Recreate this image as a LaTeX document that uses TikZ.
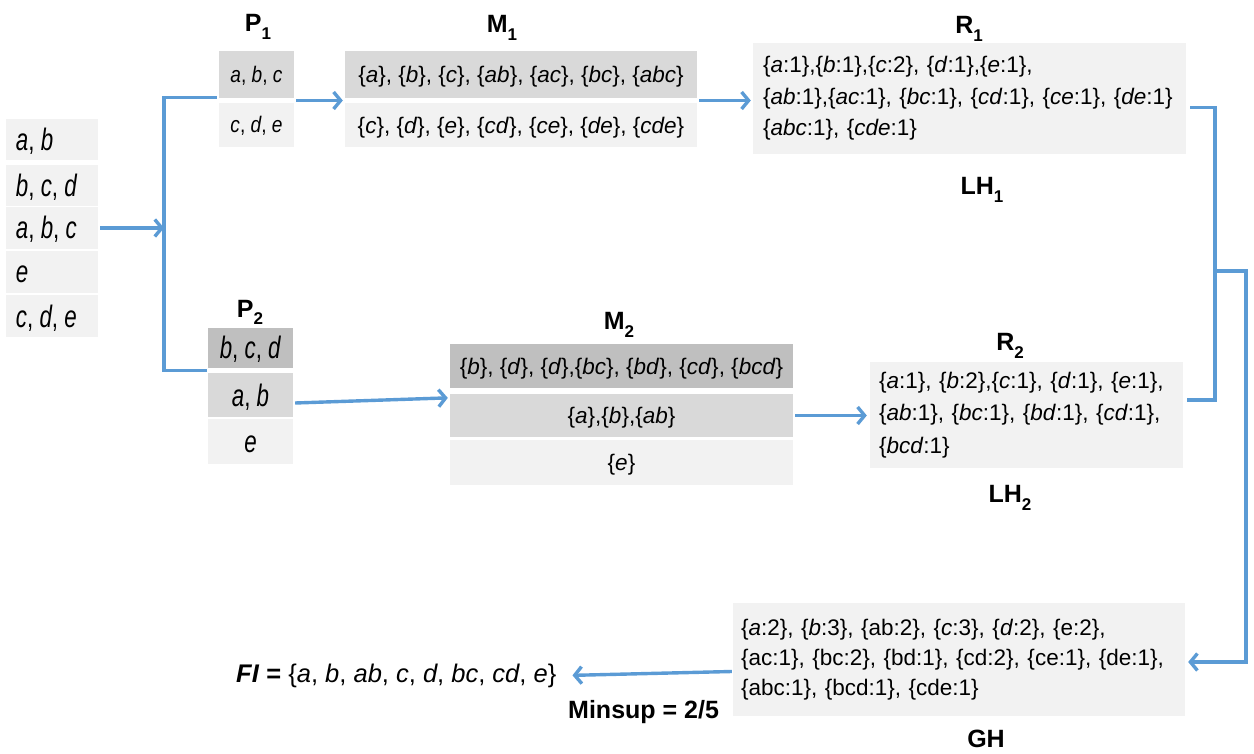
\documentclass[tikz,border=0pt]{standalone}
\usepackage{fontspec}
\usepackage{graphicx}
\setmainfont{Liberation Sans}
\usetikzlibrary{arrows.meta,calc}

\definecolor{flow}{HTML}{5B9BD5}
\definecolor{cellA}{HTML}{F2F2F2}
\definecolor{cellB}{HTML}{D9D9D9}
\definecolor{cellC}{HTML}{BFBFBF}

% item sets: italic letters, upright braces and counts
\newcommand\iset[1]{\{\textit{#1}\}}
\newcommand\icnt[2]{\{\textit{#1}:#2\}}
% subscript for the bold titles
\newcommand\lsub[1]{\raisebox{-0.32em}{\fontsize{17}{17}\selectfont #1}}
% narrow, tall lettering of the transaction cells
\newcommand\tall[1]{\scalebox{0.72}[1]{\fontsize{31}{31}\selectfont #1}}
% left-set lettering of the database rows
\newcommand\rowtext[1]{\makebox[72pt][l]{\tall{#1}}}
% slightly narrow lettering of the first partition
\newcommand\narrow[1]{\scalebox{0.85}[1]{\fontsize{22.5}{22.5}\selectfont #1}}

\begin{document}
\begin{tikzpicture}[x=1pt,y=-1pt,
  cell/.style={rectangle, inner sep=0pt, draw=none},
  txt/.style={font=\fontsize{22.5}{31.5}\selectfont},
  tallcell/.style={cell, text height=22pt, text depth=0pt},
  normcell/.style={cell, txt, text height=16.5pt, text depth=0pt},
  smallcell/.style={cell, text height=16pt, text depth=0pt},
  listbox/.style={cell, txt, align=left, fill=cellA},
  title/.style={font=\fontsize{25}{25}\selectfont\bfseries, inner sep=0pt, anchor=base},
  line/.style={draw=flow, line width=3.4pt},
  link/.style={line, -{Straight Barb[length=7pt,width=17pt]}}
]
\useasboundingbox (0,0) rectangle (1254,754);

% transaction database
\node[tallcell, fill=cellA, minimum width=92, minimum height=41] (t1) at (52,139.5) {\rowtext{\textit{a}, \textit{b}}};
\node[tallcell, fill=cellA, minimum width=92, minimum height=41] (t2) at (52,185.5) {\rowtext{\textit{b}, \textit{c}, \textit{d}}};
\node[tallcell, fill=cellA, minimum width=92, minimum height=42] (t3) at (52,228) {\rowtext{\textit{a}, \textit{b}, \textit{c}}};
\node[tallcell, fill=cellA, minimum width=92, minimum height=42] (t4) at (52,272) {\rowtext{\textit{e}}};
\node[tallcell, fill=cellA, minimum width=92, minimum height=42] (t5) at (52,316) {\rowtext{\textit{c}, \textit{d}, \textit{e}}};

% partition 1
\node[title] (p1t) at (258,32) {P\lsub{1}};
\node[smallcell, fill=cellB, minimum width=75, minimum height=47] (p1a) at (256.5,74.5) {\narrow{\textit{a}, \textit{b}, \textit{c}}};
\node[smallcell, fill=cellA, minimum width=75, minimum height=44] (p1b) at (256.5,125) {\narrow{\textit{c}, \textit{d}, \textit{e}}};

% mapped subsets of partition 1
\node[title] (m1t) at (502,33) {M\lsub{1}};
\node[normcell, fill=cellB, minimum width=352, minimum height=47] (m1a) at (521,74.5) {\iset{a}, \iset{b}, \iset{c}, \iset{ab}, \iset{ac}, \iset{bc}, \iset{abc}};
\node[normcell, fill=cellA, minimum width=352, minimum height=44] (m1b) at (521,125) {\iset{c}, \iset{d}, \iset{e}, \iset{cd}, \iset{ce}, \iset{de}, \iset{cde}};

% reduced counts of partition 1
\node[title] (r1t) at (969,34) {R\lsub{1}};
\node[listbox, minimum width=433, minimum height=111, text width=413pt] (r1) at (969.5,98.5)
  {\icnt{a}{1},\icnt{b}{1},\icnt{c}{2}, \icnt{d}{1},\icnt{e}{1},\\
   \icnt{ab}{1},\icnt{ac}{1}, \icnt{bc}{1}, \icnt{cd}{1}, \icnt{ce}{1}, \icnt{de}{1}\\
   \icnt{abc}{1}, \icnt{cde}{1}};
\node[title] (lh1) at (982,195) {LH\lsub{1}};

% partition 2
\node[title] (p2t) at (250,317) {P\lsub{2}};
\node[tallcell, fill=cellC, minimum width=85, minimum height=40] (p2a) at (250.5,348) {\tall{\textit{b}, \textit{c}, \textit{d}}};
\node[tallcell, fill=cellB, minimum width=85, minimum height=44] (p2b) at (250.5,395) {\tall{\textit{a}, \textit{b}}};
\node[tallcell, fill=cellA, minimum width=85, minimum height=45] (p2c) at (250.5,441.5) {\tall{\textit{e}}};

% mapped subsets of partition 2
\node[title] (m2t) at (619,330) {M\lsub{2}};
\node[normcell, fill=cellC, minimum width=343, minimum height=44] (m2a) at (621.5,366) {\iset{b}, \iset{d}, \iset{d},\iset{bc}, \iset{bd}, \iset{cd}, \iset{bcd}};
\node[normcell, fill=cellB, minimum width=343, minimum height=43] (m2b) at (621.5,415.5) {\iset{a},\iset{b},\iset{ab}};
\node[normcell, fill=cellA, minimum width=343, minimum height=45] (m2c) at (621.5,462.5) {\iset{e}};

% reduced counts of partition 2
\node[title] (r2t) at (1010,350) {R\lsub{2}};
\node[listbox, minimum width=313, minimum height=106, text width=295pt, font=\fontsize{22.5}{32.5}\selectfont] (r2) at (1026.5,415)
  {\icnt{a}{1}, \icnt{b}{2},\icnt{c}{1}, \icnt{d}{1}, \icnt{e}{1},\\
   \icnt{ab}{1}, \icnt{bc}{1}, \icnt{bd}{1}, \icnt{cd}{1},\\
   \icnt{bcd}{1}};
\node[title] (lh2) at (1010,502) {LH\lsub{2}};

% global counts
\node[listbox, minimum width=452, minimum height=113, text width=436pt, font=\fontsize{22.5}{30}\selectfont] (gh) at (959,659.5)
  {\icnt{a}{2}, \icnt{b}{3}, \{ab:2\}, \icnt{c}{3}, \icnt{d}{2}, \{e:2\},\\
   \{ac:1\}, \{bc:2\}, \{bd:1\}, \{cd:2\}, \{ce:1\}, \{de:1\},\\
   \{abc:1\}, \{bcd:1\}, \{cde:1\}};
\node[title] (ght) at (986,747) {GH};

% result
\node[inner sep=0pt, anchor=base west, font=\fontsize{25.5}{25.5}\selectfont] (fi) at (236,682)
  {\textbf{\textit{FI}} \textbf{=} \{\textit{a}, \textit{b}, \textit{ab}, \textit{c}, \textit{d}, \textit{bc}, \textit{cd}, \textit{e}\}};
\node[title, anchor=base west] (ms) at (568,718) {Minsup = 2/5};

% split of the database
\coordinate (split) at (164,228);
\coordinate (p1gap) at ($(p1a.south west)!.5!(p1b.north west)+(-2,-3)$);
\coordinate (p2gap) at ($(p2a.south west)!.5!(p2b.north west)+(-1,0)$);
\draw[link, shorten <=2pt] (t3.east) -- (split);
\draw[line, line cap=butt] (p1gap) -| (split) |- (p2gap);

% map and reduce flows
\coordinate (p1out) at ($(p1a.south east)!.5!(p1b.north east)$);
\coordinate (m1in) at ($(m1a.south west)!.5!(m1b.north west)$);
\coordinate (m1out) at ($(m1a.south east)!.5!(m1b.north east)$);
\draw[link, shorten <=2pt, shorten >=2pt] (p1out) -- (m1in);
\draw[link, shorten <=2pt, shorten >=2pt] (m1out) -- (m1out -| r1.west);
\draw[link, shorten >=2pt] ($(p2b.east)+(2,8)$) -- ($(m2b.north west)+(0,4)$);
\draw[link, shorten <=2pt, shorten >=3pt] (m2b.east) -- (m2b.east -| r2.west);

% merge of the local counts
\coordinate (join) at (1215,271);
\coordinate (bus) at (1246,271);
\coordinate (r1out) at ($(r1.east)+(4,9)$);
\coordinate (r2out) at ($(r2.east)+(4,-15)$);
\coordinate (ghin) at ($(gh.east)+(0,2.5)$);
\draw[line] (r1out) -| (join) |- (r2out);
\draw[link, shorten >=3pt] (join) -- (bus) |- (ghin);

% frequent itemsets
\draw[link, shorten >=2pt] ($(gh.west)+(-1,12)$) -- ($(fi.east)+(14,0)$);
\end{tikzpicture}
\end{document}
